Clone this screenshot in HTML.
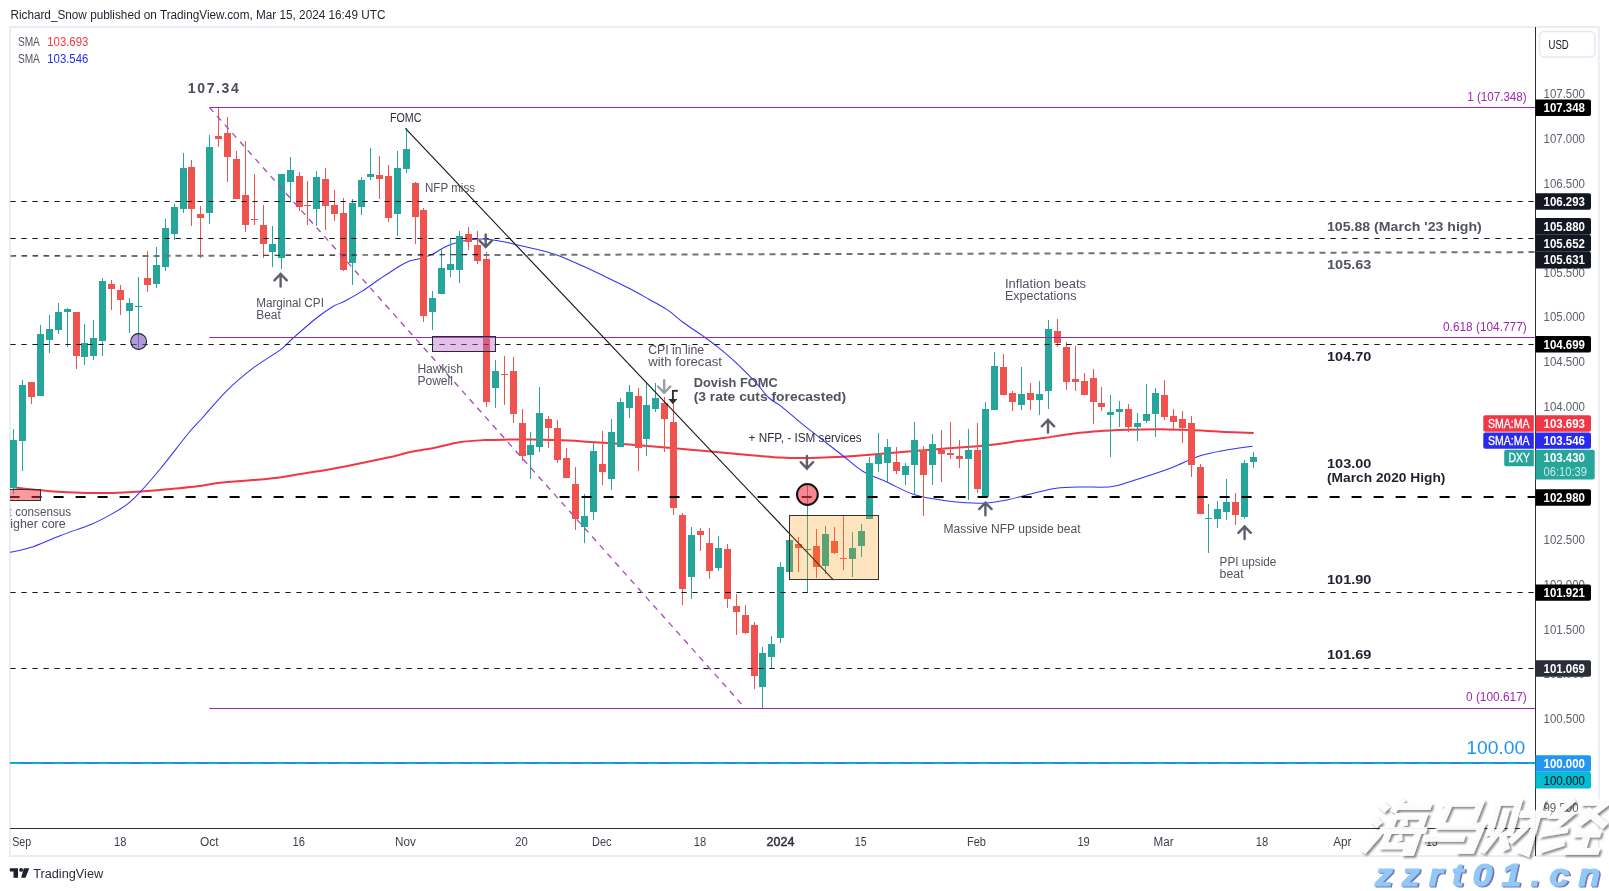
<!DOCTYPE html>
<html><head><meta charset="utf-8"><title>DXY chart</title>
<style>html,body{margin:0;padding:0;background:#fff;overflow:hidden}body{width:1609px;height:891px;font-family:"Liberation Sans",sans-serif}svg text{font-family:"Liberation Sans",sans-serif;white-space:pre}</style>
</head><body>
<svg width="1609" height="891" viewBox="0 0 1609 891" font-family="Liberation Sans, sans-serif" style="display:block">
<defs><clipPath id="cp"><rect x="10" y="27" width="1525" height="801"/></clipPath><clipPath id="cpl"><rect x="10.5" y="27" width="1525" height="801"/></clipPath><filter id="ws" filterUnits="userSpaceOnUse" x="1340" y="780" width="290" height="100"><feGaussianBlur in="SourceAlpha" stdDeviation="1"/><feOffset dx="1.7" dy="1.5" result="o"/><feComponentTransfer><feFuncA type="linear" slope="0.5"/></feComponentTransfer><feMerge><feMergeNode/><feMergeNode in="SourceGraphic"/></feMerge></filter></defs>
<rect width="1609" height="891" fill="#fff"/>
<g opacity="0.999">
<rect x="9.95" y="26.95" width="1588.9" height="829.1" fill="none" stroke="#eaecf3" stroke-width="1.8"/>
<g clip-path="url(#cp)">
<path d="M8.0,486.5 C8.3,486.6 7.2,486.4 10.0,486.8 C12.8,487.2 18.3,488.1 25.0,488.8 C31.7,489.5 41.8,490.6 50.0,491.2 C58.2,491.8 65.8,492.2 74.0,492.5 C82.2,492.8 90.8,493.0 99.0,493.0 C107.2,493.0 116.5,492.8 123.5,492.5 C130.5,492.2 132.8,492.1 141.0,491.5 C149.2,490.9 163.6,489.7 173.0,488.8 C182.4,487.9 189.7,487.3 197.5,486.3 C205.3,485.3 211.2,483.8 220.0,482.8 C228.8,481.8 240.1,481.2 250.0,480.3 C259.9,479.4 269.0,478.8 279.5,477.4 C290.0,476.0 301.9,473.9 312.8,472.1 C323.7,470.3 332.6,468.8 345.0,466.4 C357.4,464.0 375.8,460.2 386.9,457.8 C398.0,455.4 403.4,453.5 411.6,451.8 C419.8,450.1 428.0,449.1 436.0,447.5 C444.0,445.9 451.4,443.5 459.4,442.3 C467.4,441.1 475.8,440.6 484.0,440.1 C492.2,439.7 500.6,439.7 508.8,439.6 C517.0,439.5 525.3,439.3 533.5,439.4 C541.7,439.5 549.8,439.8 558.0,440.1 C566.2,440.4 574.5,440.9 582.8,441.4 C591.0,441.9 598.2,442.4 607.5,443.0 C616.8,443.6 625.4,444.2 638.8,445.3 C652.2,446.4 671.5,448.1 688.0,449.5 C704.5,450.9 725.5,452.9 737.5,454.0 C749.5,455.1 752.9,455.3 760.0,455.9 C767.1,456.5 772.5,457.1 780.0,457.5 C787.5,457.9 796.8,458.0 805.0,458.0 C813.2,458.0 821.1,457.6 829.4,457.3 C837.7,457.0 846.8,456.6 855.0,456.0 C863.2,455.4 866.6,455.0 878.8,454.0 C891.0,453.0 911.5,451.2 928.0,449.9 C944.5,448.6 965.5,447.2 977.5,446.2 C989.5,445.2 993.0,444.6 1000.0,443.7 C1007.0,442.8 1012.1,441.8 1019.4,440.8 C1026.7,439.9 1035.8,439.1 1044.0,438.0 C1052.2,436.9 1060.5,435.3 1068.8,434.2 C1077.0,433.1 1085.3,432.3 1093.5,431.6 C1101.7,430.9 1109.8,430.5 1118.0,430.1 C1126.2,429.8 1134.5,429.6 1142.8,429.5 C1151.0,429.4 1159.6,429.3 1167.5,429.4 C1175.4,429.5 1180.6,429.6 1190.0,430.0 C1199.4,430.4 1213.4,431.4 1224.0,431.9 C1234.6,432.4 1248.8,432.9 1253.7,433.1" fill="none" stroke="#f23645" stroke-width="2" stroke-linejoin="round"/>
<path d="M8.0,552.8 C8.3,552.7 6.3,553.2 10.0,552.3 C13.7,551.4 21.9,550.4 30.3,547.6 C38.7,544.8 50.5,539.4 60.6,535.5 C70.7,531.6 82.5,528.0 90.9,524.5 C99.3,521.0 104.9,517.9 111.1,514.4 C117.3,510.9 123.0,507.6 128.0,503.7 C133.1,499.8 135.9,496.6 141.4,490.7 C146.9,484.8 153.1,477.6 161.0,468.0 C168.9,458.4 181.7,441.3 188.6,433.0 C195.5,424.7 196.0,425.0 202.3,418.0 C208.6,411.0 217.9,399.5 226.4,391.1 C234.9,382.7 244.6,374.6 253.6,367.7 C262.6,360.8 274.1,354.6 280.7,349.6 C287.3,344.7 286.9,343.4 293.1,338.0 C299.3,332.6 311.2,322.2 317.8,317.0 C324.4,311.8 328.1,309.4 332.6,306.7 C337.1,304.0 340.1,303.6 345.0,301.0 C349.9,298.4 356.4,294.8 362.2,291.1 C368.0,287.4 373.7,283.0 380.0,278.8 C386.3,274.6 395.1,268.7 400.2,265.7 C405.2,262.7 406.9,262.0 410.3,260.8 C413.7,259.6 416.7,259.5 420.4,258.4 C424.1,257.3 429.1,255.8 432.5,254.3 C435.9,252.8 437.6,251.1 440.6,249.5 C443.6,247.9 447.3,245.9 450.7,244.6 C454.1,243.2 457.4,242.2 460.8,241.4 C464.2,240.6 467.5,239.9 470.9,239.5 C474.3,239.1 477.3,238.9 481.0,239.0 C484.7,239.1 488.1,239.3 493.1,240.0 C498.2,240.7 503.9,241.8 511.3,243.4 C518.7,245.0 529.7,247.5 537.5,249.5 C545.3,251.5 550.5,252.7 558.0,255.4 C565.5,258.1 574.5,262.3 582.8,266.0 C591.0,269.7 599.6,273.9 607.5,277.7 C615.4,281.5 623.0,285.2 630.0,288.8 C637.0,292.4 643.3,296.1 649.4,299.5 C655.5,302.9 660.9,305.5 666.7,309.4 C672.5,313.3 677.8,318.5 684.0,323.0 C690.2,327.5 698.0,332.4 703.7,336.5 C709.5,340.6 712.7,343.0 718.5,347.7 C724.3,352.4 731.9,358.8 738.3,364.9 C744.7,370.9 751.9,378.5 757.0,384.0 C762.1,389.5 765.1,394.3 769.1,398.0 C773.1,401.7 775.8,402.1 781.2,406.3 C786.6,410.5 795.0,418.2 801.4,423.4 C807.8,428.6 812.8,432.3 819.6,437.6 C826.4,442.9 834.7,449.4 842.0,455.0 C849.3,460.6 855.7,467.0 863.2,471.5 C870.7,476.0 878.4,478.2 886.8,482.0 C895.2,485.8 904.2,491.3 913.7,494.4 C923.2,497.5 935.4,499.1 944.0,500.5 C952.6,501.9 958.4,502.3 965.2,502.7 C972.0,503.1 978.0,503.5 985.0,503.0 C992.0,502.5 999.2,501.4 1007.0,499.9 C1014.8,498.3 1023.5,495.6 1031.7,493.7 C1039.9,491.8 1048.2,489.4 1056.4,488.3 C1064.6,487.2 1072.0,487.2 1081.1,487.0 C1090.1,486.8 1102.5,487.7 1110.7,486.8 C1118.9,485.9 1123.1,483.6 1130.5,481.4 C1137.9,479.2 1147.8,476.0 1155.2,473.5 C1162.6,471.0 1167.3,469.3 1174.7,466.4 C1182.1,463.5 1191.2,458.7 1199.4,456.0 C1207.6,453.3 1215.2,452.0 1224.0,450.4 C1232.8,448.8 1247.8,446.9 1252.5,446.2" fill="none" stroke="#3232f5" stroke-width="1.05" stroke-linejoin="round"/>
<g shape-rendering="crispEdges">
<rect x="13" y="429" width="1" height="65" fill="#26a69a"/>
<rect x="10" y="440" width="7" height="48" fill="#26a69a"/>
<rect x="22" y="380" width="1" height="91" fill="#26a69a"/>
<rect x="19" y="385" width="7" height="56" fill="#26a69a"/>
<rect x="31" y="382" width="1" height="22" fill="#ef5350"/>
<rect x="28" y="382" width="7" height="15" fill="#ef5350"/>
<rect x="40" y="325" width="1" height="71" fill="#26a69a"/>
<rect x="37" y="334" width="7" height="62" fill="#26a69a"/>
<rect x="49" y="315" width="1" height="38" fill="#26a69a"/>
<rect x="46" y="329" width="7" height="11" fill="#26a69a"/>
<rect x="58" y="303" width="1" height="31" fill="#26a69a"/>
<rect x="55" y="312" width="7" height="18" fill="#26a69a"/>
<rect x="67" y="308" width="1" height="39" fill="#26a69a"/>
<rect x="64" y="309" width="7" height="3" fill="#26a69a"/>
<rect x="76" y="312" width="1" height="57" fill="#ef5350"/>
<rect x="73" y="312" width="7" height="44" fill="#ef5350"/>
<rect x="84" y="324" width="1" height="41" fill="#26a69a"/>
<rect x="81" y="343" width="7" height="14" fill="#26a69a"/>
<rect x="93" y="320" width="1" height="40" fill="#26a69a"/>
<rect x="90" y="338" width="7" height="18" fill="#26a69a"/>
<rect x="102" y="278" width="1" height="78" fill="#26a69a"/>
<rect x="99" y="281" width="7" height="60" fill="#26a69a"/>
<rect x="111" y="280" width="1" height="30" fill="#ef5350"/>
<rect x="108" y="284" width="7" height="5" fill="#ef5350"/>
<rect x="120" y="285" width="1" height="30" fill="#ef5350"/>
<rect x="117" y="290" width="7" height="10" fill="#ef5350"/>
<rect x="129" y="298" width="1" height="35" fill="#26a69a"/>
<rect x="126" y="303" width="7" height="8" fill="#26a69a"/>
<rect x="138" y="277" width="1" height="70" fill="#26a69a"/>
<rect x="135" y="306" width="7" height="1" fill="#26a69a"/>
<rect x="147" y="251" width="1" height="41" fill="#ef5350"/>
<rect x="144" y="278" width="7" height="7" fill="#ef5350"/>
<rect x="156" y="247" width="1" height="41" fill="#26a69a"/>
<rect x="153" y="265" width="7" height="19" fill="#26a69a"/>
<rect x="165" y="219" width="1" height="52" fill="#26a69a"/>
<rect x="162" y="228" width="7" height="39" fill="#26a69a"/>
<rect x="174" y="204" width="1" height="36" fill="#26a69a"/>
<rect x="171" y="207" width="7" height="27" fill="#26a69a"/>
<rect x="183" y="153" width="1" height="60" fill="#26a69a"/>
<rect x="180" y="168" width="7" height="41" fill="#26a69a"/>
<rect x="191" y="160" width="1" height="66" fill="#ef5350"/>
<rect x="188" y="167" width="7" height="42" fill="#ef5350"/>
<rect x="200" y="206" width="1" height="52" fill="#ef5350"/>
<rect x="197" y="214" width="7" height="4" fill="#ef5350"/>
<rect x="209" y="135" width="1" height="89" fill="#26a69a"/>
<rect x="206" y="147" width="7" height="66" fill="#26a69a"/>
<rect x="218" y="107" width="1" height="40" fill="#ef5350"/>
<rect x="215" y="136" width="7" height="3" fill="#ef5350"/>
<rect x="227" y="117" width="1" height="65" fill="#ef5350"/>
<rect x="224" y="133" width="7" height="24" fill="#ef5350"/>
<rect x="236" y="151" width="1" height="48" fill="#ef5350"/>
<rect x="233" y="159" width="7" height="40" fill="#ef5350"/>
<rect x="245" y="141" width="1" height="91" fill="#ef5350"/>
<rect x="242" y="195" width="7" height="30" fill="#ef5350"/>
<rect x="254" y="174" width="1" height="51" fill="#ef5350"/>
<rect x="251" y="219" width="7" height="1" fill="#ef5350"/>
<rect x="263" y="205" width="1" height="53" fill="#ef5350"/>
<rect x="260" y="225" width="7" height="19" fill="#ef5350"/>
<rect x="272" y="226" width="1" height="41" fill="#26a69a"/>
<rect x="269" y="244" width="7" height="8" fill="#26a69a"/>
<rect x="281" y="174" width="1" height="95" fill="#26a69a"/>
<rect x="278" y="174" width="7" height="84" fill="#26a69a"/>
<rect x="290" y="157" width="1" height="44" fill="#26a69a"/>
<rect x="287" y="170" width="7" height="12" fill="#26a69a"/>
<rect x="299" y="172" width="1" height="39" fill="#ef5350"/>
<rect x="296" y="176" width="7" height="31" fill="#ef5350"/>
<rect x="307" y="181" width="1" height="44" fill="#ef5350"/>
<rect x="304" y="205" width="7" height="1" fill="#ef5350"/>
<rect x="316" y="171" width="1" height="55" fill="#26a69a"/>
<rect x="313" y="177" width="7" height="32" fill="#26a69a"/>
<rect x="325" y="168" width="1" height="62" fill="#ef5350"/>
<rect x="322" y="179" width="7" height="27" fill="#ef5350"/>
<rect x="334" y="190" width="1" height="31" fill="#ef5350"/>
<rect x="331" y="205" width="7" height="9" fill="#ef5350"/>
<rect x="343" y="198" width="1" height="73" fill="#ef5350"/>
<rect x="340" y="213" width="7" height="57" fill="#ef5350"/>
<rect x="352" y="199" width="1" height="86" fill="#26a69a"/>
<rect x="349" y="203" width="7" height="60" fill="#26a69a"/>
<rect x="361" y="177" width="1" height="38" fill="#26a69a"/>
<rect x="358" y="180" width="7" height="27" fill="#26a69a"/>
<rect x="370" y="148" width="1" height="32" fill="#26a69a"/>
<rect x="367" y="174" width="7" height="3" fill="#26a69a"/>
<rect x="379" y="156" width="1" height="43" fill="#ef5350"/>
<rect x="376" y="175" width="7" height="4" fill="#ef5350"/>
<rect x="388" y="165" width="1" height="57" fill="#ef5350"/>
<rect x="385" y="176" width="7" height="42" fill="#ef5350"/>
<rect x="397" y="151" width="1" height="85" fill="#26a69a"/>
<rect x="394" y="168" width="7" height="46" fill="#26a69a"/>
<rect x="406" y="128" width="1" height="45" fill="#26a69a"/>
<rect x="403" y="149" width="7" height="20" fill="#26a69a"/>
<rect x="415" y="182" width="1" height="62" fill="#ef5350"/>
<rect x="412" y="183" width="7" height="34" fill="#ef5350"/>
<rect x="423" y="208" width="1" height="114" fill="#ef5350"/>
<rect x="420" y="210" width="7" height="106" fill="#ef5350"/>
<rect x="432" y="291" width="1" height="39" fill="#26a69a"/>
<rect x="429" y="298" width="7" height="14" fill="#26a69a"/>
<rect x="441" y="248" width="1" height="46" fill="#26a69a"/>
<rect x="438" y="268" width="7" height="26" fill="#26a69a"/>
<rect x="450" y="238" width="1" height="39" fill="#26a69a"/>
<rect x="447" y="264" width="7" height="6" fill="#26a69a"/>
<rect x="459" y="231" width="1" height="52" fill="#26a69a"/>
<rect x="456" y="236" width="7" height="34" fill="#26a69a"/>
<rect x="468" y="227" width="1" height="23" fill="#ef5350"/>
<rect x="465" y="234" width="7" height="8" fill="#ef5350"/>
<rect x="477" y="231" width="1" height="33" fill="#ef5350"/>
<rect x="474" y="245" width="7" height="16" fill="#ef5350"/>
<rect x="486" y="252" width="1" height="155" fill="#ef5350"/>
<rect x="483" y="259" width="7" height="143" fill="#ef5350"/>
<rect x="495" y="360" width="1" height="48" fill="#26a69a"/>
<rect x="492" y="371" width="7" height="17" fill="#26a69a"/>
<rect x="504" y="356" width="1" height="49" fill="#ef5350"/>
<rect x="501" y="374" width="7" height="1" fill="#ef5350"/>
<rect x="513" y="357" width="1" height="66" fill="#ef5350"/>
<rect x="510" y="371" width="7" height="43" fill="#ef5350"/>
<rect x="522" y="409" width="1" height="52" fill="#ef5350"/>
<rect x="519" y="423" width="7" height="33" fill="#ef5350"/>
<rect x="530" y="432" width="1" height="47" fill="#26a69a"/>
<rect x="527" y="445" width="7" height="10" fill="#26a69a"/>
<rect x="539" y="387" width="1" height="65" fill="#26a69a"/>
<rect x="536" y="413" width="7" height="34" fill="#26a69a"/>
<rect x="548" y="416" width="1" height="32" fill="#ef5350"/>
<rect x="545" y="419" width="7" height="9" fill="#ef5350"/>
<rect x="557" y="420" width="1" height="43" fill="#ef5350"/>
<rect x="554" y="428" width="7" height="32" fill="#ef5350"/>
<rect x="566" y="448" width="1" height="30" fill="#ef5350"/>
<rect x="563" y="458" width="7" height="20" fill="#ef5350"/>
<rect x="575" y="467" width="1" height="63" fill="#ef5350"/>
<rect x="572" y="484" width="7" height="35" fill="#ef5350"/>
<rect x="584" y="494" width="1" height="49" fill="#26a69a"/>
<rect x="581" y="516" width="7" height="11" fill="#26a69a"/>
<rect x="593" y="443" width="1" height="77" fill="#26a69a"/>
<rect x="590" y="451" width="7" height="61" fill="#26a69a"/>
<rect x="602" y="431" width="1" height="54" fill="#ef5350"/>
<rect x="599" y="464" width="7" height="8" fill="#ef5350"/>
<rect x="611" y="419" width="1" height="71" fill="#26a69a"/>
<rect x="608" y="432" width="7" height="47" fill="#26a69a"/>
<rect x="620" y="398" width="1" height="49" fill="#26a69a"/>
<rect x="617" y="402" width="7" height="45" fill="#26a69a"/>
<rect x="629" y="385" width="1" height="33" fill="#26a69a"/>
<rect x="626" y="392" width="7" height="16" fill="#26a69a"/>
<rect x="638" y="388" width="1" height="83" fill="#ef5350"/>
<rect x="635" y="396" width="7" height="52" fill="#ef5350"/>
<rect x="646" y="382" width="1" height="74" fill="#26a69a"/>
<rect x="643" y="405" width="7" height="34" fill="#26a69a"/>
<rect x="655" y="383" width="1" height="29" fill="#26a69a"/>
<rect x="652" y="398" width="7" height="11" fill="#26a69a"/>
<rect x="664" y="397" width="1" height="55" fill="#ef5350"/>
<rect x="661" y="403" width="7" height="16" fill="#ef5350"/>
<rect x="673" y="403" width="1" height="112" fill="#ef5350"/>
<rect x="670" y="422" width="7" height="86" fill="#ef5350"/>
<rect x="682" y="513" width="1" height="92" fill="#ef5350"/>
<rect x="679" y="515" width="7" height="74" fill="#ef5350"/>
<rect x="691" y="527" width="1" height="72" fill="#26a69a"/>
<rect x="688" y="535" width="7" height="42" fill="#26a69a"/>
<rect x="700" y="528" width="1" height="23" fill="#ef5350"/>
<rect x="697" y="531" width="7" height="4" fill="#ef5350"/>
<rect x="709" y="528" width="1" height="51" fill="#ef5350"/>
<rect x="706" y="543" width="7" height="28" fill="#ef5350"/>
<rect x="718" y="536" width="1" height="35" fill="#26a69a"/>
<rect x="715" y="548" width="7" height="20" fill="#26a69a"/>
<rect x="727" y="544" width="1" height="64" fill="#ef5350"/>
<rect x="724" y="549" width="7" height="50" fill="#ef5350"/>
<rect x="736" y="594" width="1" height="41" fill="#ef5350"/>
<rect x="733" y="606" width="7" height="6" fill="#ef5350"/>
<rect x="745" y="605" width="1" height="29" fill="#ef5350"/>
<rect x="742" y="615" width="7" height="18" fill="#ef5350"/>
<rect x="754" y="622" width="1" height="67" fill="#ef5350"/>
<rect x="751" y="625" width="7" height="51" fill="#ef5350"/>
<rect x="762" y="647" width="1" height="61" fill="#26a69a"/>
<rect x="759" y="653" width="7" height="34" fill="#26a69a"/>
<rect x="771" y="636" width="1" height="32" fill="#26a69a"/>
<rect x="768" y="644" width="7" height="13" fill="#26a69a"/>
<rect x="780" y="562" width="1" height="81" fill="#26a69a"/>
<rect x="777" y="567" width="7" height="71" fill="#26a69a"/>
<rect x="789" y="540" width="1" height="32" fill="#26a69a"/>
<rect x="786" y="540" width="7" height="32" fill="#26a69a"/>
<rect x="798" y="537" width="1" height="35" fill="#ef5350"/>
<rect x="795" y="544" width="7" height="4" fill="#ef5350"/>
<rect x="807" y="485" width="1" height="108" fill="#26a69a"/>
<rect x="804" y="549" width="7" height="1" fill="#26a69a"/>
<rect x="816" y="529" width="1" height="49" fill="#ef5350"/>
<rect x="813" y="546" width="7" height="21" fill="#ef5350"/>
<rect x="825" y="526" width="1" height="48" fill="#26a69a"/>
<rect x="822" y="534" width="7" height="32" fill="#26a69a"/>
<rect x="834" y="527" width="1" height="27" fill="#ef5350"/>
<rect x="831" y="541" width="7" height="12" fill="#ef5350"/>
<rect x="843" y="516" width="1" height="54" fill="#ef5350"/>
<rect x="840" y="558" width="7" height="1" fill="#ef5350"/>
<rect x="852" y="532" width="1" height="45" fill="#26a69a"/>
<rect x="849" y="548" width="7" height="11" fill="#26a69a"/>
<rect x="861" y="524" width="1" height="33" fill="#26a69a"/>
<rect x="858" y="531" width="7" height="15" fill="#26a69a"/>
<rect x="869" y="457" width="1" height="62" fill="#26a69a"/>
<rect x="866" y="463" width="7" height="56" fill="#26a69a"/>
<rect x="878" y="433" width="1" height="39" fill="#26a69a"/>
<rect x="875" y="455" width="7" height="9" fill="#26a69a"/>
<rect x="887" y="439" width="1" height="43" fill="#26a69a"/>
<rect x="884" y="447" width="7" height="16" fill="#26a69a"/>
<rect x="896" y="447" width="1" height="27" fill="#ef5350"/>
<rect x="893" y="462" width="7" height="9" fill="#ef5350"/>
<rect x="905" y="463" width="1" height="22" fill="#26a69a"/>
<rect x="902" y="466" width="7" height="9" fill="#26a69a"/>
<rect x="914" y="422" width="1" height="73" fill="#26a69a"/>
<rect x="911" y="440" width="7" height="25" fill="#26a69a"/>
<rect x="923" y="446" width="1" height="70" fill="#ef5350"/>
<rect x="920" y="450" width="7" height="25" fill="#ef5350"/>
<rect x="932" y="434" width="1" height="51" fill="#26a69a"/>
<rect x="929" y="444" width="7" height="21" fill="#26a69a"/>
<rect x="941" y="430" width="1" height="52" fill="#ef5350"/>
<rect x="938" y="450" width="7" height="4" fill="#ef5350"/>
<rect x="950" y="422" width="1" height="37" fill="#ef5350"/>
<rect x="947" y="453" width="7" height="2" fill="#ef5350"/>
<rect x="959" y="440" width="1" height="28" fill="#ef5350"/>
<rect x="956" y="456" width="7" height="3" fill="#ef5350"/>
<rect x="968" y="429" width="1" height="71" fill="#26a69a"/>
<rect x="965" y="450" width="7" height="9" fill="#26a69a"/>
<rect x="977" y="423" width="1" height="70" fill="#ef5350"/>
<rect x="974" y="450" width="7" height="39" fill="#ef5350"/>
<rect x="985" y="402" width="1" height="96" fill="#26a69a"/>
<rect x="982" y="409" width="7" height="88" fill="#26a69a"/>
<rect x="994" y="352" width="1" height="58" fill="#26a69a"/>
<rect x="991" y="366" width="7" height="44" fill="#26a69a"/>
<rect x="1003" y="354" width="1" height="41" fill="#ef5350"/>
<rect x="1000" y="367" width="7" height="28" fill="#ef5350"/>
<rect x="1012" y="391" width="1" height="20" fill="#ef5350"/>
<rect x="1009" y="393" width="7" height="9" fill="#ef5350"/>
<rect x="1021" y="367" width="1" height="43" fill="#26a69a"/>
<rect x="1018" y="394" width="7" height="11" fill="#26a69a"/>
<rect x="1030" y="383" width="1" height="27" fill="#ef5350"/>
<rect x="1027" y="393" width="7" height="7" fill="#ef5350"/>
<rect x="1039" y="381" width="1" height="34" fill="#26a69a"/>
<rect x="1036" y="394" width="7" height="6" fill="#26a69a"/>
<rect x="1048" y="320" width="1" height="89" fill="#26a69a"/>
<rect x="1045" y="329" width="7" height="62" fill="#26a69a"/>
<rect x="1057" y="319" width="1" height="28" fill="#ef5350"/>
<rect x="1054" y="331" width="7" height="12" fill="#ef5350"/>
<rect x="1066" y="342" width="1" height="48" fill="#ef5350"/>
<rect x="1063" y="347" width="7" height="35" fill="#ef5350"/>
<rect x="1075" y="346" width="1" height="45" fill="#ef5350"/>
<rect x="1072" y="379" width="7" height="3" fill="#ef5350"/>
<rect x="1084" y="373" width="1" height="22" fill="#ef5350"/>
<rect x="1081" y="381" width="7" height="14" fill="#ef5350"/>
<rect x="1093" y="369" width="1" height="55" fill="#ef5350"/>
<rect x="1090" y="378" width="7" height="24" fill="#ef5350"/>
<rect x="1101" y="387" width="1" height="24" fill="#ef5350"/>
<rect x="1098" y="403" width="7" height="4" fill="#ef5350"/>
<rect x="1110" y="395" width="1" height="62" fill="#26a69a"/>
<rect x="1107" y="412" width="7" height="3" fill="#26a69a"/>
<rect x="1119" y="401" width="1" height="26" fill="#26a69a"/>
<rect x="1116" y="409" width="7" height="3" fill="#26a69a"/>
<rect x="1128" y="404" width="1" height="28" fill="#ef5350"/>
<rect x="1125" y="409" width="7" height="18" fill="#ef5350"/>
<rect x="1137" y="413" width="1" height="28" fill="#26a69a"/>
<rect x="1134" y="423" width="7" height="4" fill="#26a69a"/>
<rect x="1146" y="384" width="1" height="39" fill="#26a69a"/>
<rect x="1143" y="414" width="7" height="7" fill="#26a69a"/>
<rect x="1155" y="388" width="1" height="49" fill="#26a69a"/>
<rect x="1152" y="393" width="7" height="21" fill="#26a69a"/>
<rect x="1164" y="380" width="1" height="40" fill="#ef5350"/>
<rect x="1161" y="395" width="7" height="22" fill="#ef5350"/>
<rect x="1173" y="409" width="1" height="20" fill="#ef5350"/>
<rect x="1170" y="416" width="7" height="6" fill="#ef5350"/>
<rect x="1182" y="411" width="1" height="32" fill="#ef5350"/>
<rect x="1179" y="419" width="7" height="9" fill="#ef5350"/>
<rect x="1191" y="416" width="1" height="61" fill="#ef5350"/>
<rect x="1188" y="423" width="7" height="42" fill="#ef5350"/>
<rect x="1200" y="464" width="1" height="50" fill="#ef5350"/>
<rect x="1197" y="467" width="7" height="47" fill="#ef5350"/>
<rect x="1208" y="504" width="1" height="49" fill="#26a69a"/>
<rect x="1205" y="518" width="7" height="1" fill="#26a69a"/>
<rect x="1217" y="501" width="1" height="27" fill="#26a69a"/>
<rect x="1214" y="509" width="7" height="10" fill="#26a69a"/>
<rect x="1226" y="479" width="1" height="41" fill="#26a69a"/>
<rect x="1223" y="502" width="7" height="10" fill="#26a69a"/>
<rect x="1235" y="493" width="1" height="32" fill="#ef5350"/>
<rect x="1232" y="502" width="7" height="13" fill="#ef5350"/>
<rect x="1244" y="460" width="1" height="59" fill="#26a69a"/>
<rect x="1241" y="463" width="7" height="54" fill="#26a69a"/>
<rect x="1253" y="452" width="1" height="16" fill="#26a69a"/>
<rect x="1250" y="457" width="7" height="5" fill="#26a69a"/>
</g>
<line x1="10" y1="201.5" x2="1535.5" y2="201.5" stroke="#181818" stroke-width="1" stroke-dasharray="5.3 5.7" stroke-dashoffset="-0.4" opacity="1"/>
<line x1="10" y1="238.5" x2="1535.5" y2="238.5" stroke="#181818" stroke-width="1" stroke-dasharray="5.3 5.7" stroke-dashoffset="-0.4" opacity="1"/>
<line x1="10" y1="344.5" x2="1535.5" y2="344.5" stroke="#181818" stroke-width="1" stroke-dasharray="5.3 5.7" stroke-dashoffset="-0.4" opacity="1"/>
<line x1="10" y1="592.5" x2="1535.5" y2="592.5" stroke="#181818" stroke-width="1" stroke-dasharray="5.3 5.7" stroke-dashoffset="-0.4" opacity="1"/>
<line x1="10" y1="668.5" x2="1535.5" y2="668.5" stroke="#181818" stroke-width="1" stroke-dasharray="5.3 5.7" stroke-dashoffset="-0.4" opacity="1"/>
<line x1="65.5" y1="256.15" x2="252.5" y2="255.63" stroke="#70737d" stroke-width="2" stroke-dasharray="6 5"/>
<line x1="483.5" y1="255.00" x2="1535.5" y2="252.10" stroke="#70737d" stroke-width="2" stroke-dasharray="6 5"/>
<line x1="10.5" y1="255.95" x2="65.5" y2="255.80" stroke="#111" stroke-width="1.15" stroke-dasharray="5.6 5.4"/>
<line x1="252.5" y1="255.28" x2="483.5" y2="254.65" stroke="#111" stroke-width="1.15" stroke-dasharray="5.6 5.4"/>
<line x1="-12.4" y1="497" x2="1535.5" y2="497" stroke="#000" stroke-width="2" stroke-dasharray="10 12"/>
<line x1="209.4" y1="107.5" x2="1535.5" y2="107.5" stroke="#9c27b0" stroke-width="1.05"/>
<line x1="209.4" y1="337.5" x2="1535.5" y2="337.5" stroke="#9c27b0" stroke-width="1.05"/>
<line x1="209.4" y1="708.5" x2="1535.5" y2="708.5" stroke="#9c27b0" stroke-width="1.05"/>
<line x1="209.4" y1="107.4" x2="745" y2="708" stroke="#ab47bc" stroke-width="1.3" stroke-dasharray="6 5.5"/>
<line x1="10" y1="763" x2="1535.5" y2="763" stroke="#2188f0" stroke-width="2" shape-rendering="crispEdges"/>
<line x1="10" y1="763" x2="1535.5" y2="763" stroke="#00b4cc" stroke-width="2" stroke-dasharray="10 12" shape-rendering="crispEdges"/>
<line x1="405.4" y1="128.4" x2="833.6" y2="580.2" stroke="#151515" stroke-width="1.15"/>
<rect x="432.5" y="336.5" width="63" height="15" fill="#ba68c8" fill-opacity="0.42" stroke="#2a2a35" stroke-width="1"/>
<rect x="789.5" y="515.5" width="89" height="64" fill="#ff9800" fill-opacity="0.25" stroke="#333" stroke-width="1"/>
<rect x="-5" y="489.5" width="45.5" height="11" fill="#f23645" fill-opacity="0.5" stroke="#333" stroke-width="1"/>
<circle cx="138.6" cy="341.5" r="7.9" fill="#7e57c2" fill-opacity="0.6" stroke="#22222c" stroke-width="1.1"/>
<circle cx="807.4" cy="494.5" r="10.4" fill="#f23645" fill-opacity="0.6" stroke="#111" stroke-width="2"/>
<path d="M280.6,286.5 L280.6,273.8 M274.40000000000003,280.3 L280.6,273.9 L286.8,280.3" fill="none" stroke="#5d606b" stroke-width="2.4" stroke-linecap="round" stroke-linejoin="miter"/>
<path d="M485.7,234.4 L485.7,247.1 M479.5,240.6 L485.7,247.0 L491.9,240.6" fill="none" stroke="#5d606b" stroke-width="2.4" stroke-linecap="round" stroke-linejoin="miter"/>
<path d="M664.2,380.3 L664.2,393.0 M658.0,386.5 L664.2,392.90000000000003 L670.4000000000001,386.5" fill="none" stroke="#9a9da6" stroke-width="2.4" stroke-linecap="round" stroke-linejoin="miter"/>
<path d="M806.9,456 L806.9,468.7 M800.6999999999999,462.2 L806.9,468.6 L813.1,462.2" fill="none" stroke="#5d606b" stroke-width="2.4" stroke-linecap="round" stroke-linejoin="miter"/>
<path d="M985.4,515.3 L985.4,502.6 M979.1999999999999,509.1 L985.4,502.7 L991.6,509.1" fill="none" stroke="#5d606b" stroke-width="2.4" stroke-linecap="round" stroke-linejoin="miter"/>
<path d="M1048,432.5 L1048,419.8 M1041.8,426.3 L1048,419.9 L1054.2,426.3" fill="none" stroke="#5d606b" stroke-width="2.4" stroke-linecap="round" stroke-linejoin="miter"/>
<path d="M1244.6,539.0 L1244.6,526.3 M1238.3999999999999,532.8 L1244.6,526.4 L1250.8,532.8" fill="none" stroke="#5d606b" stroke-width="2.4" stroke-linecap="round" stroke-linejoin="miter"/>
<path d="M677.8,390.7 L672.9,390.9 L672.9,400" fill="none" stroke="#2a2e39" stroke-width="1.9"/><path d="M668.4,399 L677.4,399 L672.9,404.2 Z" fill="#2a2e39"/>
<text x="187.8" y="92.8" font-size="14" fill="#4a4d57" font-weight="bold" text-anchor="start" textLength="51" lengthAdjust="spacing" >107.34</text>
<text x="390" y="121.7" font-size="12" fill="#2a2e39" font-weight="normal" text-anchor="start" textLength="31.5" lengthAdjust="spacingAndGlyphs" >FOMC</text>
<text x="425" y="191.9" font-size="12" fill="#50535e" font-weight="normal" text-anchor="start" textLength="50" lengthAdjust="spacingAndGlyphs" >NFP miss</text>
<text x="256.2" y="306.7" font-size="12" fill="#50535e" font-weight="normal" text-anchor="start" textLength="67.7" lengthAdjust="spacingAndGlyphs" >Marginal CPI</text>
<text x="256.2" y="318.7" font-size="12" fill="#50535e" font-weight="normal" text-anchor="start" textLength="24.5" lengthAdjust="spacingAndGlyphs" >Beat</text>
<text x="417.4" y="372.7" font-size="12" fill="#50535e" font-weight="normal" text-anchor="start" textLength="45.7" lengthAdjust="spacingAndGlyphs" >Hawkish</text>
<text x="417.4" y="384.6" font-size="12" fill="#50535e" font-weight="normal" text-anchor="start" textLength="35.5" lengthAdjust="spacingAndGlyphs" >Powell</text>
<text x="648.2" y="353.5" font-size="12" fill="#50535e" font-weight="normal" text-anchor="start" textLength="56" lengthAdjust="spacingAndGlyphs" >CPI in line</text>
<text x="648.2" y="365.7" font-size="12" fill="#50535e" font-weight="normal" text-anchor="start" textLength="73.8" lengthAdjust="spacingAndGlyphs" >with forecast</text>
<text x="693.7" y="386.8" font-size="13" fill="#50535e" font-weight="bold" text-anchor="start" textLength="84" lengthAdjust="spacingAndGlyphs" >Dovish FOMC</text>
<text x="693.7" y="400.9" font-size="13" fill="#50535e" font-weight="bold" text-anchor="start" textLength="152.5" lengthAdjust="spacingAndGlyphs" >(3 rate cuts forecasted)</text>
<text x="748.6" y="441.8" font-size="12" fill="#2a2e39" font-weight="normal" text-anchor="start" textLength="113" lengthAdjust="spacingAndGlyphs" >+ NFP, - ISM services</text>
<text x="943.5" y="532.6" font-size="12" fill="#50535e" font-weight="normal" text-anchor="start" textLength="137" lengthAdjust="spacingAndGlyphs" >Massive NFP upside beat</text>
<text x="1005" y="288" font-size="12" fill="#50535e" font-weight="normal" text-anchor="start" textLength="81" lengthAdjust="spacingAndGlyphs" >Inflation beats</text>
<text x="1005" y="299.9" font-size="12" fill="#50535e" font-weight="normal" text-anchor="start" textLength="71.5" lengthAdjust="spacingAndGlyphs" >Expectations</text>
<text x="1219.6" y="565.7" font-size="12" fill="#50535e" font-weight="normal" text-anchor="start" textLength="56.8" lengthAdjust="spacingAndGlyphs" >PPI upside</text>
<text x="1219.6" y="577.5" font-size="12" fill="#50535e" font-weight="normal" text-anchor="start" textLength="24" lengthAdjust="spacingAndGlyphs" >beat</text>
<text x="1327" y="230.8" font-size="13" fill="#4f5460" font-weight="bold" text-anchor="start" textLength="154.8" lengthAdjust="spacingAndGlyphs" >105.88 (March '23 high)</text>
<text x="1327" y="268.5" font-size="13" fill="#4f5460" font-weight="bold" text-anchor="start" textLength="44.4" lengthAdjust="spacingAndGlyphs" >105.63</text>
<text x="1327" y="360.6" font-size="13" fill="#1e222d" font-weight="bold" text-anchor="start" textLength="44.4" lengthAdjust="spacingAndGlyphs" >104.70</text>
<text x="1327" y="468.3" font-size="13" fill="#1e222d" font-weight="bold" text-anchor="start" textLength="44.4" lengthAdjust="spacingAndGlyphs" >103.00</text>
<text x="1327" y="482.2" font-size="13" fill="#1e222d" font-weight="bold" text-anchor="start" textLength="118.4" lengthAdjust="spacingAndGlyphs" >(March 2020 High)</text>
<text x="1327" y="583.5" font-size="13" fill="#1e222d" font-weight="bold" text-anchor="start" textLength="44.4" lengthAdjust="spacingAndGlyphs" >101.90</text>
<text x="1327" y="658.5" font-size="13" fill="#1e222d" font-weight="bold" text-anchor="start" textLength="44.4" lengthAdjust="spacingAndGlyphs" >101.69</text>
<text x="1526.7" y="101.3" font-size="12" fill="#9c27b0" font-weight="normal" text-anchor="end" textLength="59.5" lengthAdjust="spacingAndGlyphs" >1 (107.348)</text>
<text x="1526.7" y="330.7" font-size="12" fill="#9c27b0" font-weight="normal" text-anchor="end" textLength="83.7" lengthAdjust="spacingAndGlyphs" >0.618 (104.777)</text>
<text x="1526.7" y="701.3" font-size="12" fill="#9c27b0" font-weight="normal" text-anchor="end" textLength="60.7" lengthAdjust="spacingAndGlyphs" >0 (100.617)</text>
<text x="1466.2" y="753.6" font-size="18" fill="#2196f3" font-weight="normal" text-anchor="start" textLength="59" lengthAdjust="spacingAndGlyphs" >100.00</text>
<g clip-path="url(#cpl)"><text x="8.2" y="515.7" font-size="12" fill="#50535e" font-weight="normal" text-anchor="start" >t</text><text x="15.2" y="515.7" font-size="12" fill="#50535e" font-weight="normal" text-anchor="start" textLength="56" lengthAdjust="spacingAndGlyphs" >consensus</text><text x="10.2" y="527.6" font-size="12" fill="#50535e" font-weight="normal" text-anchor="start" textLength="55.5" lengthAdjust="spacingAndGlyphs" >igher core</text></g>
<text x="17.9" y="46" font-size="12" fill="#50535e" font-weight="normal" text-anchor="start" textLength="22" lengthAdjust="spacingAndGlyphs" >SMA</text>
<text x="47.3" y="46" font-size="12" fill="#f23645" font-weight="normal" text-anchor="start" textLength="41" lengthAdjust="spacingAndGlyphs" >103.693</text>
<text x="17.9" y="63" font-size="12" fill="#50535e" font-weight="normal" text-anchor="start" textLength="22" lengthAdjust="spacingAndGlyphs" >SMA</text>
<text x="47.3" y="63" font-size="12" fill="#2a2af0" font-weight="normal" text-anchor="start" textLength="41" lengthAdjust="spacingAndGlyphs" >103.546</text>
</g>
<rect x="1535" y="27" width="1" height="829" fill="#2a2e39"/>
<rect x="10" y="828" width="1525.5" height="1" fill="#2a2e39"/>
<text x="1543.5" y="98.3" font-size="12" fill="#5d606b" font-weight="normal" text-anchor="start" textLength="41.5" lengthAdjust="spacingAndGlyphs" >107.500</text>
<text x="1543.5" y="143.0" font-size="12" fill="#5d606b" font-weight="normal" text-anchor="start" textLength="41.5" lengthAdjust="spacingAndGlyphs" >107.000</text>
<text x="1543.5" y="187.6" font-size="12" fill="#5d606b" font-weight="normal" text-anchor="start" textLength="41.5" lengthAdjust="spacingAndGlyphs" >106.500</text>
<text x="1543.5" y="276.8" font-size="12" fill="#5d606b" font-weight="normal" text-anchor="start" textLength="41.5" lengthAdjust="spacingAndGlyphs" >105.500</text>
<text x="1543.5" y="321.3" font-size="12" fill="#5d606b" font-weight="normal" text-anchor="start" textLength="41.5" lengthAdjust="spacingAndGlyphs" >105.000</text>
<text x="1543.5" y="366.0" font-size="12" fill="#5d606b" font-weight="normal" text-anchor="start" textLength="41.5" lengthAdjust="spacingAndGlyphs" >104.500</text>
<text x="1543.5" y="410.7" font-size="12" fill="#5d606b" font-weight="normal" text-anchor="start" textLength="41.5" lengthAdjust="spacingAndGlyphs" >104.000</text>
<text x="1543.5" y="544.3" font-size="12" fill="#5d606b" font-weight="normal" text-anchor="start" textLength="41.5" lengthAdjust="spacingAndGlyphs" >102.500</text>
<text x="1543.5" y="588.8" font-size="12" fill="#5d606b" font-weight="normal" text-anchor="start" textLength="41.5" lengthAdjust="spacingAndGlyphs" >102.000</text>
<text x="1543.5" y="633.8" font-size="12" fill="#5d606b" font-weight="normal" text-anchor="start" textLength="41.5" lengthAdjust="spacingAndGlyphs" >101.500</text>
<text x="1543.5" y="678.3" font-size="12" fill="#5d606b" font-weight="normal" text-anchor="start" textLength="41.5" lengthAdjust="spacingAndGlyphs" >101.000</text>
<text x="1543.5" y="723.1" font-size="12" fill="#5d606b" font-weight="normal" text-anchor="start" textLength="41.5" lengthAdjust="spacingAndGlyphs" >100.500</text>
<text x="1543.5" y="812.3" font-size="12" fill="#5d606b" font-weight="normal" text-anchor="start" textLength="35" lengthAdjust="spacingAndGlyphs" >99.500</text>
<rect x="1539.6" y="31.4" width="55.2" height="25.6" rx="4.5" fill="#fff" stroke="#e6e8f0" stroke-width="1.5"/>
<text x="1548.5" y="48.6" font-size="12" fill="#131722" font-weight="normal" text-anchor="start" textLength="20.3" lengthAdjust="spacingAndGlyphs" >USD</text>
<path d="M1535.5,99.5 H1589 Q1591,99.5 1591,101.5 V114 Q1591,116 1589,116 H1535.5 Z" fill="#000"/><text x="1543.5" y="112.0" font-size="12" fill="#fff" font-weight="bold" text-anchor="start" textLength="41.5" lengthAdjust="spacingAndGlyphs" >107.348</text>
<path d="M1535.5,193.3 H1589 Q1591,193.3 1591,195.3 V207.8 Q1591,209.8 1589,209.8 H1535.5 Z" fill="#131722"/><text x="1543.5" y="205.9" font-size="12" fill="#fff" font-weight="bold" text-anchor="start" textLength="41.5" lengthAdjust="spacingAndGlyphs" >106.293</text>
<path d="M1535.5,218 H1589 Q1591,218 1591,220 V232.8 Q1591,234.8 1589,234.8 H1535.5 Z" fill="#131722"/><text x="1543.5" y="230.7" font-size="12" fill="#fff" font-weight="bold" text-anchor="start" textLength="41.5" lengthAdjust="spacingAndGlyphs" >105.880</text>
<path d="M1535.5,234.8 H1589 Q1591,234.8 1591,236.8 V249.7 Q1591,251.7 1589,251.7 H1535.5 Z" fill="#131722"/><text x="1543.5" y="247.6" font-size="12" fill="#fff" font-weight="bold" text-anchor="start" textLength="41.5" lengthAdjust="spacingAndGlyphs" >105.652</text>
<path d="M1535.5,251.7 H1589 Q1591,251.7 1591,253.7 V266.5 Q1591,268.5 1589,268.5 H1535.5 Z" fill="#131722"/><text x="1543.5" y="264.4" font-size="12" fill="#fff" font-weight="bold" text-anchor="start" textLength="41.5" lengthAdjust="spacingAndGlyphs" >105.631</text>
<path d="M1535.5,335.9 H1589 Q1591,335.9 1591,337.9 V350.6 Q1591,352.6 1589,352.6 H1535.5 Z" fill="#000"/><text x="1543.5" y="348.6" font-size="12" fill="#fff" font-weight="bold" text-anchor="start" textLength="41.5" lengthAdjust="spacingAndGlyphs" >104.699</text>
<path d="M1535.5,415.2 H1589 Q1591,415.2 1591,417.2 V429.7 Q1591,431.7 1589,431.7 H1535.5 Z" fill="#f23645"/><text x="1543.5" y="427.8" font-size="12" fill="#fff" font-weight="bold" text-anchor="start" textLength="41.5" lengthAdjust="spacingAndGlyphs" >103.693</text>
<path d="M1535.5,432.4 H1589 Q1591,432.4 1591,434.4 V446.7 Q1591,448.7 1589,448.7 H1535.5 Z" fill="#2a2aef"/><text x="1543.5" y="444.8" font-size="12" fill="#fff" font-weight="bold" text-anchor="start" textLength="41.5" lengthAdjust="spacingAndGlyphs" >103.546</text>
<path d="M1535.5,489.2 H1589 Q1591,489.2 1591,491.2 V503.7 Q1591,505.7 1589,505.7 H1535.5 Z" fill="#000"/><text x="1543.5" y="501.8" font-size="12" fill="#fff" font-weight="bold" text-anchor="start" textLength="41.5" lengthAdjust="spacingAndGlyphs" >102.980</text>
<path d="M1535.5,584.4 H1589 Q1591,584.4 1591,586.4 V598.8 Q1591,600.8 1589,600.8 H1535.5 Z" fill="#000"/><text x="1543.5" y="596.9" font-size="12" fill="#fff" font-weight="bold" text-anchor="start" textLength="41.5" lengthAdjust="spacingAndGlyphs" >101.921</text>
<path d="M1535.5,660.3 H1589 Q1591,660.3 1591,662.3 V674.7 Q1591,676.7 1589,676.7 H1535.5 Z" fill="#2a2e39"/><text x="1543.5" y="672.8" font-size="12" fill="#fff" font-weight="bold" text-anchor="start" textLength="41.5" lengthAdjust="spacingAndGlyphs" >101.069</text>
<path d="M1535.5,755.3 H1589 Q1591,755.3 1591,757.3 V769.8 Q1591,771.8 1589,771.8 H1535.5 Z" fill="#2196f3"/><text x="1543.5" y="767.8" font-size="12" fill="#fff" font-weight="bold" text-anchor="start" textLength="41.5" lengthAdjust="spacingAndGlyphs" >100.000</text>
<path d="M1535.5,771.8 H1589 Q1591,771.8 1591,773.8 V786.6 Q1591,788.6 1589,788.6 H1535.5 Z" fill="#00bcd4"/><text x="1543.5" y="784.5" font-size="12" fill="#111" font-weight="normal" text-anchor="start" textLength="41.5" lengthAdjust="spacingAndGlyphs" >100.000</text>
<path d="M1535.5,449.8 H1592.7 Q1594.7,449.8 1594.7,451.8 V477.5 Q1594.7,479.5 1592.7,479.5 H1535.5 Z" fill="#26a69a"/>
<text x="1543.5" y="462.1" font-size="12" fill="#fff" font-weight="bold" text-anchor="start" textLength="41.5" lengthAdjust="spacingAndGlyphs" >103.430</text>
<text x="1543.5" y="476" font-size="12" fill="#c9ebe7" font-weight="normal" text-anchor="start" textLength="43.5" lengthAdjust="spacingAndGlyphs" >06:10:39</text>
<path d="M1533.8,415.2 H1485.3 Q1483.3,415.2 1483.3,417.2 V429.7 Q1483.3,431.7 1485.3,431.7 H1533.8 Z" fill="#f23645"/><text x="1488" y="427.8" font-size="12" fill="#fff" font-weight="normal" text-anchor="start" textLength="41.5" lengthAdjust="spacingAndGlyphs" stroke="#fff" stroke-width="0.3">SMA:MA</text>
<path d="M1533.8,432.4 H1485.3 Q1483.3,432.4 1483.3,434.4 V446.7 Q1483.3,448.7 1485.3,448.7 H1533.8 Z" fill="#2a2aef"/><text x="1488" y="444.8" font-size="12" fill="#fff" font-weight="normal" text-anchor="start" textLength="41.5" lengthAdjust="spacingAndGlyphs" stroke="#fff" stroke-width="0.3">SMA:MA</text>
<path d="M1533.8,449.8 H1506.2 Q1504.2,449.8 1504.2,451.8 V464.2 Q1504.2,466.2 1506.2,466.2 H1533.8 Z" fill="#26a69a"/><text x="1508.5" y="462.3" font-size="12" fill="#fff" font-weight="normal" text-anchor="start" textLength="21.5" lengthAdjust="spacingAndGlyphs" stroke="#fff" stroke-width="0.3">DXY</text>
<text x="21.7" y="846.1" font-size="12" fill="#3c3f4a" font-weight="normal" text-anchor="middle" textLength="19" lengthAdjust="spacingAndGlyphs" >Sep</text>
<text x="120.2" y="846.1" font-size="12" fill="#3c3f4a" font-weight="normal" text-anchor="middle" textLength="12.4" lengthAdjust="spacingAndGlyphs" >18</text>
<text x="209.3" y="846.1" font-size="12" fill="#3c3f4a" font-weight="normal" text-anchor="middle" textLength="18.5" lengthAdjust="spacingAndGlyphs" >Oct</text>
<text x="298.8" y="846.1" font-size="12" fill="#3c3f4a" font-weight="normal" text-anchor="middle" textLength="12.4" lengthAdjust="spacingAndGlyphs" >16</text>
<text x="405.5" y="846.1" font-size="12" fill="#3c3f4a" font-weight="normal" text-anchor="middle" textLength="20.8" lengthAdjust="spacingAndGlyphs" >Nov</text>
<text x="521.4" y="846.1" font-size="12" fill="#3c3f4a" font-weight="normal" text-anchor="middle" textLength="12.5" lengthAdjust="spacingAndGlyphs" >20</text>
<text x="601.8" y="846.1" font-size="12" fill="#3c3f4a" font-weight="normal" text-anchor="middle" textLength="19.4" lengthAdjust="spacingAndGlyphs" >Dec</text>
<text x="700" y="846.1" font-size="12" fill="#3c3f4a" font-weight="normal" text-anchor="middle" textLength="12.4" lengthAdjust="spacingAndGlyphs" >18</text>
<text x="780.5" y="846.1" font-size="12" fill="#2a2e39" font-weight="normal" text-anchor="middle" textLength="27.8" lengthAdjust="spacingAndGlyphs" stroke="#2a2e39" stroke-width="0.45">2024</text>
<text x="860.7" y="846.1" font-size="12" fill="#3c3f4a" font-weight="normal" text-anchor="middle" textLength="11.8" lengthAdjust="spacingAndGlyphs" >15</text>
<text x="976.5" y="846.1" font-size="12" fill="#3c3f4a" font-weight="normal" text-anchor="middle" textLength="19" lengthAdjust="spacingAndGlyphs" >Feb</text>
<text x="1083.6" y="846.1" font-size="12" fill="#3c3f4a" font-weight="normal" text-anchor="middle" textLength="12.4" lengthAdjust="spacingAndGlyphs" >19</text>
<text x="1163.6" y="846.1" font-size="12" fill="#3c3f4a" font-weight="normal" text-anchor="middle" textLength="20" lengthAdjust="spacingAndGlyphs" >Mar</text>
<text x="1262" y="846.1" font-size="12" fill="#3c3f4a" font-weight="normal" text-anchor="middle" textLength="12.4" lengthAdjust="spacingAndGlyphs" >18</text>
<text x="1342.3" y="846.1" font-size="12" fill="#3c3f4a" font-weight="normal" text-anchor="middle" textLength="18.3" lengthAdjust="spacingAndGlyphs" >Apr</text>
<text x="1431.8" y="846.1" font-size="12" fill="#3c3f4a" font-weight="normal" text-anchor="middle" textLength="11.8" lengthAdjust="spacingAndGlyphs" >15</text>
<text x="10.4" y="18.7" font-size="12" fill="#1e222d" font-weight="normal" text-anchor="start" textLength="375" lengthAdjust="spacingAndGlyphs" >Richard_Snow published on TradingView.com, Mar 15, 2024 16:49 UTC</text>
<g fill="#1e222d"><path d="M9.8,868.2 H18 V877.8 H13.5 V871.6 H9.8 Z"/><circle cx="21.1" cy="869.9" r="1.95"/><path d="M23.8,868.2 H29.3 L25.5,877.8 H21.1 Z"/></g>
<text x="33.2" y="877.8" font-size="13" fill="#2a2e39" font-weight="normal" text-anchor="start" textLength="70" lengthAdjust="spacingAndGlyphs" >TradingView</text>
<g filter="url(#ws)">
<g transform="translate(1377.0,799) skewX(-16) scale(0.565,0.545)"><path d="M8,8 L24,20 M2,36 L18,48 M2,98 L22,62 M46,0 L34,24 M38,14 L100,14 M40,32 L92,32 L88,98 L72,98 M40,32 L35,86 L88,86 M20,58 L104,58 M58,38 L62,50 M56,66 L60,78" fill="none" stroke="#fff" stroke-opacity="0.93" stroke-width="12.5" stroke-linejoin="miter" stroke-linecap="butt"/></g>
<g transform="translate(1436.5,799) skewX(-16) scale(0.565,0.545)"><path d="M12,8 L80,8 L76,46 M26,8 L20,50 L94,50 L88,94 L62,94 M-4,72 L70,72" fill="none" stroke="#fff" stroke-opacity="0.93" stroke-width="12.5" stroke-linejoin="miter" stroke-linecap="butt"/></g>
<g transform="translate(1496.0,799) skewX(-16) scale(0.565,0.545)"><path d="M6,6 L6,68 M6,6 L42,6 L42,68 M24,18 L24,52 L2,98 M28,62 L44,94 M50,28 L104,28 M82,0 L82,98 L64,92 M80,34 L46,80" fill="none" stroke="#fff" stroke-opacity="0.93" stroke-width="12.5" stroke-linejoin="miter" stroke-linecap="butt"/></g>
<g transform="translate(1555.5,799) skewX(-16) scale(0.565,0.545)"><path d="M32,0 L8,30 L32,30 L4,62 L38,56 M-2,94 L38,80 M48,6 L94,6 L54,46 M60,20 L102,50 M50,64 L98,64 M74,64 L74,96 M42,96 L104,96" fill="none" stroke="#fff" stroke-opacity="0.93" stroke-width="12.5" stroke-linejoin="miter" stroke-linecap="butt"/></g>
</g>
<g transform="translate(1375,885.6) scale(1.12,1)"><text x="1.4" y="1.5" font-size="32" font-weight="bold" font-style="italic" fill="#7577b5" stroke="#7577b5" stroke-width="1.1" textLength="201" lengthAdjust="spacing">zzrt01.cn</text><text x="0" y="0" font-size="32" font-weight="bold" font-style="italic" fill="#90c8f8" stroke="#90c8f8" stroke-width="1.1" textLength="201" lengthAdjust="spacing">zzrt01.cn</text></g>
</g>
</svg>
</body></html>
